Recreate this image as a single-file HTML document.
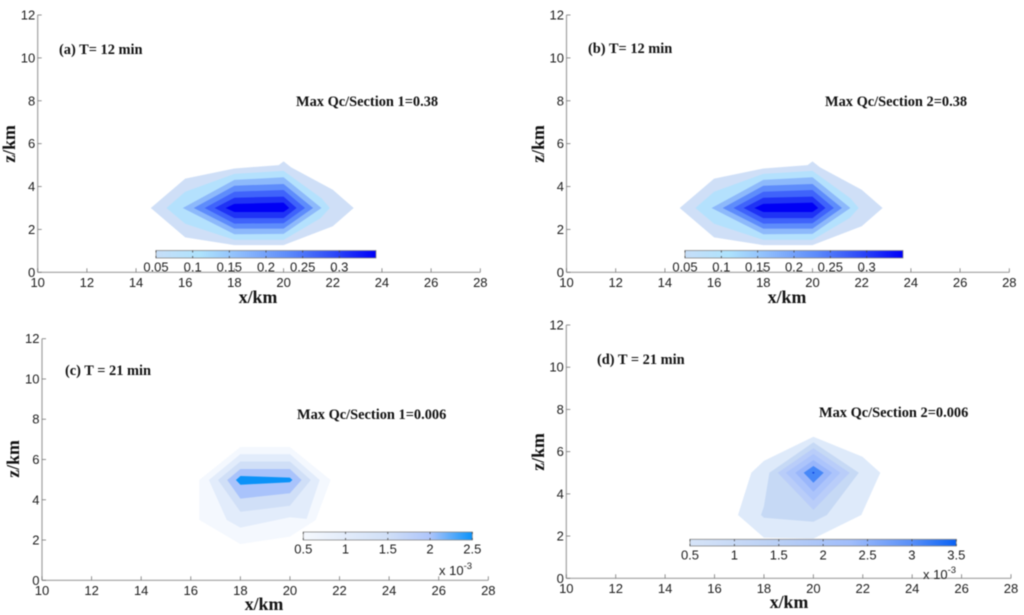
<!DOCTYPE html>
<html lang="en">
<head>
<meta charset="utf-8">
<title>Qc contour sections</title>
<style>
html,body{margin:0;padding:0;background:#fff;width:1024px;height:615px;overflow:hidden}
svg{display:block;filter:blur(.45px)}
.tick{font:13px "Liberation Sans",sans-serif;fill:#1c1c1c}
.title{font:bold 17.8px "Liberation Serif",serif;fill:#111}
.note{font:bold 14.4px "Liberation Serif",serif;fill:#111}
</style>
</head>
<body>
<svg id="figure" width="1024" height="615" viewBox="0 0 1024 615" xmlns="http://www.w3.org/2000/svg">
  <defs>
    <linearGradient id="grad-a"><stop offset="0" stop-color="#c6def8"/><stop offset=".2" stop-color="#aee3fd"/><stop offset=".4" stop-color="#8ab8fc"/><stop offset=".6" stop-color="#5e8cfb"/><stop offset=".8" stop-color="#2f4cf8"/><stop offset="1" stop-color="#0000f8"/></linearGradient>
    <linearGradient id="grad-c"><stop offset="0" stop-color="#f6f9fe"/><stop offset=".25" stop-color="#e2ecfb"/><stop offset=".5" stop-color="#d0dff7"/><stop offset=".75" stop-color="#aec5fb"/><stop offset="1" stop-color="#0a92fa"/></linearGradient>
    <linearGradient id="grad-d"><stop offset="0" stop-color="#d6e4f8"/><stop offset=".33" stop-color="#b9cff5"/><stop offset=".6" stop-color="#a0bdfb"/><stop offset=".83" stop-color="#5a90f8"/><stop offset="1" stop-color="#0a62f5"/></linearGradient>
  </defs>
  <g id="plots"></g>

  <text class="title" x="258" y="303" text-anchor="middle">x/km</text>
  <text class="title" transform="translate(15,144) rotate(-90)" text-anchor="middle">z/km</text>
  <text class="note" x="59" y="54">(a) T= 12 min</text>
  <text class="note" x="296" y="106">Max Qc/Section 1=0.38</text>

  <text class="title" x="787" y="303" text-anchor="middle">x/km</text>
  <text class="title" transform="translate(544,144) rotate(-90)" text-anchor="middle">z/km</text>
  <text class="note" x="588" y="53">(b) T= 12 min</text>
  <text class="note" x="825" y="106">Max Qc/Section 2=0.38</text>

  <text class="title" x="264" y="610" text-anchor="middle">x/km</text>
  <text class="title" transform="translate(19,459) rotate(-90)" text-anchor="middle">z/km</text>
  <text class="note" x="65" y="375">(c) T = 21 min</text>
  <text class="note" x="297" y="419">Max Qc/Section 1=0.006</text>
  <text class="tick" x="439" y="575">x 10<tspan dy="-6" font-size="9.5">-3</tspan></text>

  <text class="title" x="789" y="608" text-anchor="middle">x/km</text>
  <text class="title" transform="translate(544,452) rotate(-90)" text-anchor="middle">z/km</text>
  <text class="note" x="597" y="364">(d) T = 21 min</text>
  <text class="note" x="819" y="417">Max Qc/Section 2=0.006</text>
  <text class="tick" x="923" y="579">x 10<tspan dy="-6" font-size="9.5">-3</tspan></text>
</svg>
<script>
// Axis ticks shared by every panel
const xTicks = [10, 12, 14, 16, 18, 20, 22, 24, 26, 28];
const zTicks = [0, 2, 4, 6, 8, 10, 12];

// Filled contour regions, [x km, z km], outermost level first
const contoursAB = [
  [[14.6,3],[16,4.37],[18,4.84],[19.8,5],[20,5.17],[20.3,4.9],[22,3.85],[22.85,3],[22,2.15],[20,1.27],[18,1.27],[16,1.63]],
  [[15.24,3],[16,3.76],[18,4.59],[20,4.73],[21.54,3.45],[21.88,3],[21.5,2.52],[20,1.51],[18,1.51],[16,2.26]],
  [[15.9,3],[18,4.31],[20,4.43],[21.54,3],[20,1.79],[18,1.77]],
  [[16.35,3],[18,4.04],[20,4.12],[21.2,3],[20,2.04],[18,2.04]],
  [[16.79,3],[18,3.76],[20,3.84],[20.87,3],[20,2.29],[18,2.27]],
  [[17.2,3],[18,3.48],[20,3.53],[20.53,3],[20,2.53],[18,2.53]],
  [[17.64,3],[18,3.19],[20,3.25],[20.23,3],[20,2.81],[18,2.81]]
];
const contoursC = [
  [[16.34,4.98],[18,6.62],[20,6.62],[21.64,4.98],[21.04,2.99],[20,2.17],[18,1.8],[16.34,3]],
  [[16.73,4.98],[18,6.27],[20,6.27],[21.2,4.98],[20.67,3.05],[20,3.13],[18,2.62],[17.45,3]],
  [[17.1,4.98],[18,5.9],[20,5.9],[20.84,4.98],[20,3.7],[18,3.4]],
  [[17.47,4.98],[18,5.53],[20,5.53],[20.47,4.98],[20,4.32],[18,4.06]],
  [[17.82,4.98],[18,5.18],[20,5.1],[20.1,4.98],[20,4.87],[18,4.75]]
];
const contoursD = [
  [[16.95,3],[17.49,5],[18,5.56],[20,6.71],[21.99,5.76],[22.71,5],[21.94,3],[20,1.88],[18,1.93]],
  [[17.88,3],[18,3.4],[18.22,5],[20,6.44],[21.84,5],[20.55,3],[20,2.68],[18,2.87]],
  [[18.56,5],[20,6.16],[21.47,5],[20,3.24]],
  [[18.89,5],[20,5.89],[21.09,5],[20,3.68]],
  [[19.27,5],[20,5.6],[20.76,5],[20,4.1]],
  [[19.61,5],[20,5.32],[20.42,5],[20,4.53]],
  [[19.95,5],[20,5.05],[20.05,5],[20,4.95]]
];

// Level colours
const coloursAB = ['#cfdff7','#b4e1fd','#8db9fb','#5e8cfb','#3f63fb','#1f33f5','#0000f5'];
const coloursC = ['#f4f8fe','#e2ecfb','#d0dff7','#a9c3fb','#0a92f8'];
const coloursD = ['#deeafa','#c6d9f5','#b9cdf9','#acc4fb','#99b6fb','#4788f8','#0a40e0'];

// Colorbar tick values and range
const cbarTicksAB = [0.05, 0.1, 0.15, 0.2, 0.25, 0.3];
const cbarRangeAB = [0.05, 0.35];
const cbarTicksC = [0.5, 1, 1.5, 2, 2.5];
const cbarRangeC = [0.5, 2.5];
const cbarTicksD = [0.5, 1, 1.5, 2, 2.5, 3, 3.5];
const cbarRangeD = [0.5, 3.5];

const NS = 'http://www.w3.org/2000/svg';
const plots = document.getElementById('plots');

function make(tag, attrs, parent) {
  const el = document.createElementNS(NS, tag);
  for (const k in attrs) el.setAttribute(k, attrs[k]);
  parent.appendChild(el);
  return el;
}

function drawPanel(id, frame, contours, colours, cbar) {
  const xScale = v => frame.x0 + (v - 10) / 18 * (frame.x1 - frame.x0);
  const zScale = v => frame.y0 + v / 12 * (frame.y1 - frame.y0);

  const g = make('g', {}, plots);
  
  

  contours.forEach((level, i) => {
    const pts = level.map(p => xScale(p[0]).toFixed(1) + ',' + zScale(p[1]).toFixed(1)).join(' ');
    const poly = make('polygon', { points: pts, fill: colours[i] }, g);
    
    
  });

  const xAxis = make('line', { x1: frame.x0, y1: frame.y0, x2: frame.x1, y2: frame.y0, stroke: '#a0a0a0', 'stroke-width': 1.2 }, g);
  
  
  const zAxis = make('line', { x1: frame.x0, y1: frame.y0, x2: frame.x0, y2: frame.y1, stroke: '#a0a0a0', 'stroke-width': 1.2 }, g);
  
  

  xTicks.forEach(v => {
    const px = xScale(v);
    make('line', { x1: px, y1: frame.y0, x2: px, y2: frame.y0 - 4, stroke: '#777', 'stroke-width': 0.8 }, g);
    const t = make('text', { class: 'tick', x: px, y: frame.y0 + 14.5, 'text-anchor': 'middle' }, g);
    
    
    t.textContent = v;
  });
  zTicks.forEach(v => {
    const py = zScale(v);
    make('line', { x1: frame.x0, y1: py, x2: frame.x0 + 4, y2: py, stroke: '#777', 'stroke-width': 0.8 }, g);
    const t = make('text', { class: 'tick', x: frame.x0 - 2.5, y: py + 4.5, 'text-anchor': 'end' }, g);
    
    
    t.textContent = v;
  });

  const cbScale = v => cbar.x0 + (v - cbar.range[0]) / (cbar.range[1] - cbar.range[0]) * (cbar.x1 - cbar.x0);
  const bar = make('rect', { x: cbar.x0, y: cbar.y0, width: cbar.x1 - cbar.x0, height: cbar.y1 - cbar.y0, fill: 'url(#' + cbar.grad + ')', stroke: '#8a8a8a', 'stroke-width': 0.8 }, g);
  
  
  cbar.ticks.forEach(v => {
    const px = cbScale(v);
    make('line', { x1: px, y1: cbar.y0, x2: px, y2: cbar.y0 + 2, stroke: '#444', 'stroke-width': 0.8 }, g);
    make('line', { x1: px, y1: cbar.y1, x2: px, y2: cbar.y1 - 2, stroke: '#444', 'stroke-width': 0.8 }, g);
    const t = make('text', { class: 'tick', x: px, y: cbar.y1 + 13.5, 'text-anchor': 'middle' }, g);
    
    
    t.textContent = v;
  });
}

drawPanel('a', { x0: 37.7, x1: 480.3, y0: 272.3, y1: 15 }, contoursAB, coloursAB,
  { x0: 156, x1: 376, y0: 250.5, y1: 258, grad: 'grad-a', ticks: cbarTicksAB, range: cbarRangeAB });
drawPanel('b', { x0: 566.5, x1: 1009.3, y0: 272.3, y1: 15 }, contoursAB, coloursAB,
  { x0: 685, x1: 903, y0: 250.5, y1: 258, grad: 'grad-a', ticks: cbarTicksAB, range: cbarRangeAB });
drawPanel('c', { x0: 42, x1: 488.3, y0: 580.3, y1: 338.7 }, contoursC, coloursC,
  { x0: 303.3, x1: 472.3, y0: 532, y1: 540, grad: 'grad-c', ticks: cbarTicksC, range: cbarRangeC });
drawPanel('d', { x0: 566.3, x1: 1011, y0: 578.3, y1: 325 }, contoursD, coloursD,
  { x0: 690, x1: 956.3, y0: 539.3, y1: 546, grad: 'grad-d', ticks: cbarTicksD, range: cbarRangeD });
</script>
</body>
</html>
